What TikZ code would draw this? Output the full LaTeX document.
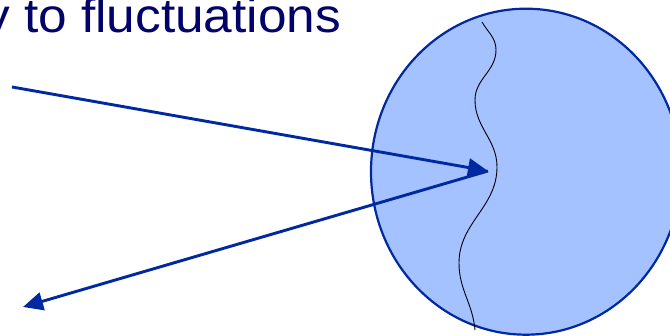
\documentclass[tikz,border=0pt]{standalone}
\usepackage{fontspec}
\setmainfont{Liberation Sans}
\usetikzlibrary{arrows.meta}
\definecolor{edgeblue}{RGB}{0,40,160}
\definecolor{fillblue}{RGB}{164,194,255}
\definecolor{textnavy}{RGB}{2,2,105}
\tikzset{
  bigarrow/.style={draw=edgeblue, line width=2.9pt, -{Triangle[length=20pt,width=18pt]}},
  disc/.style={draw=edgeblue, fill=fillblue, line width=2.2pt},
  wave/.style={draw=black, line width=0.9pt},
}
\begin{document}
\begin{tikzpicture}[x=1pt,y=1pt]
\useasboundingbox (0,0) rectangle (670,336);
\fill[white] (0,0) rectangle (670,336);
\draw[disc] (526,164.3) ellipse [x radius=155, y radius=163];
\draw[wave] (482,314) to[out=-60,in=90] (496,286) to[out=-90,in=90] (475,236)
  to[out=-90,in=90] (497,169) to[out=-90,in=90] (459,73) to[out=-90,in=95] (475,6);
\node[text=textnavy, font=\fontsize{48}{56}\selectfont, anchor=base west, inner sep=0pt, xscale=1.07, transform shape] (title) at (-16,303) {y to fluctuations};
\coordinate (src) at (12,249);
\coordinate (hit) at (488,165);
\coordinate (out) at (23,29);
\draw[bigarrow] (src) -- (hit);
\draw[bigarrow] (hit) -- (out);
\end{tikzpicture}
\end{document}
